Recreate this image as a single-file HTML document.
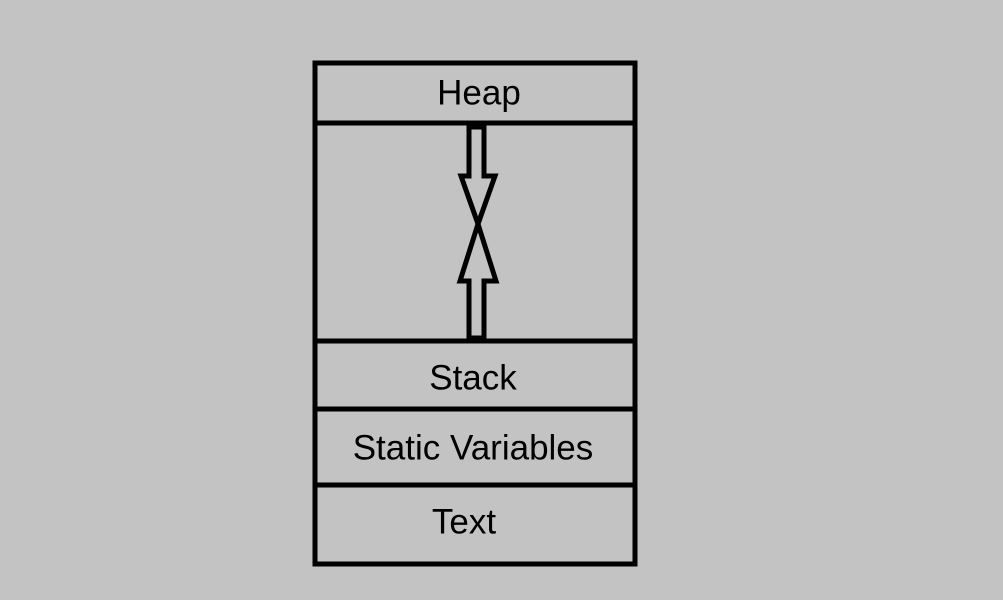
<!DOCTYPE html>
<html><head><style>
body{margin:0;background:#c3c3c3;}
svg{display:block}
text{font-family:"Liberation Sans",sans-serif;font-size:35px;fill:#000;text-anchor:middle;dominant-baseline:central}
</style></head><body>
<svg width="1003" height="600" viewBox="0 0 1003 600">
<rect x="0" y="0" width="1003" height="600" fill="#c3c3c3"/>
<g stroke="#000" stroke-width="5" fill="none">
<rect x="315" y="63" width="320" height="501"/>
<line x1="313" y1="123" x2="637" y2="123"/>
<line x1="313" y1="341" x2="637" y2="341"/>
<line x1="313" y1="409" x2="637" y2="409"/>
<line x1="313" y1="485" x2="637" y2="485"/>
<polygon points="469,127 484,127 484,176 495,176 478,224 461,176 469,176"/>
<polygon points="469,338 484,338 484,281 496,281 478,224 460,281 469,281"/>
</g>
<text x="479" y="93">Heap</text>
<text x="473" y="378">Stack</text>
<text x="473" y="448">Static Variables</text>
<text x="464" y="522">Text</text>
</svg>
</body></html>
